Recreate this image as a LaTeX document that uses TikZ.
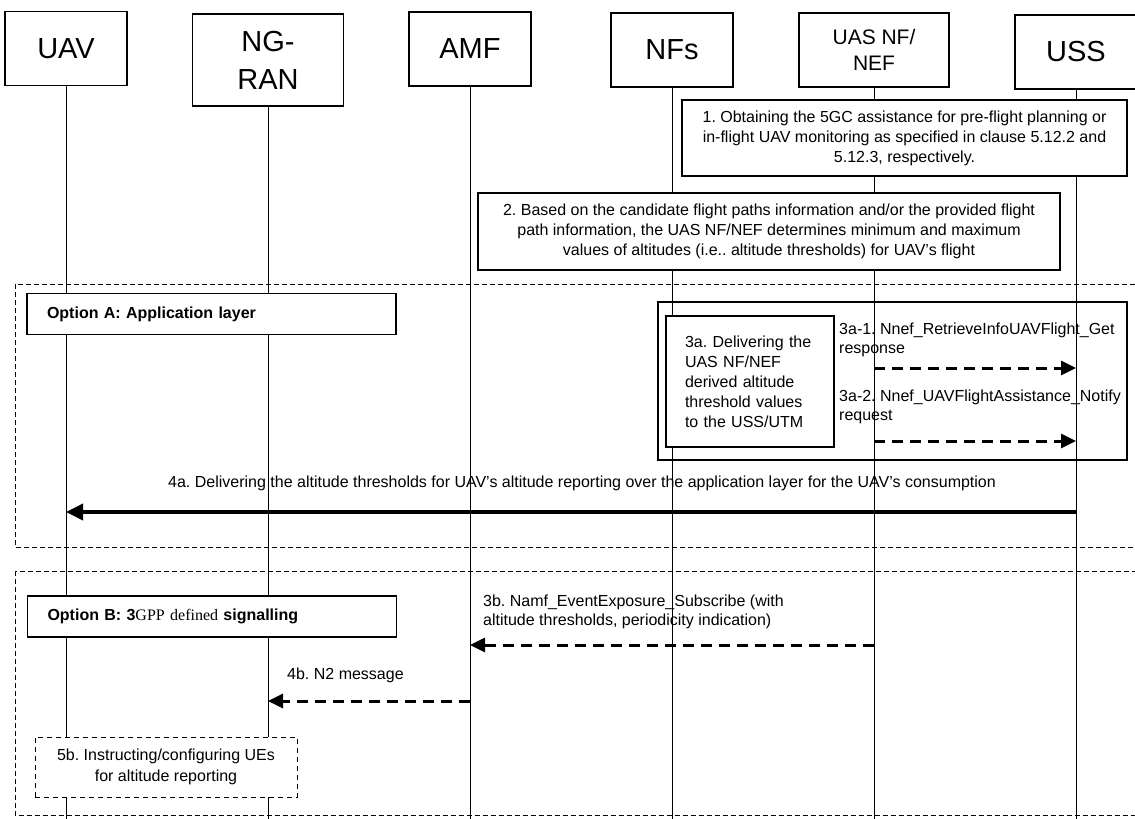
\documentclass[tikz,border=0pt]{standalone}
\usepackage{fontspec}
\setmainfont{Liberation Sans}
\newfontfamily\gppfont{Liberation Serif}
\usetikzlibrary{arrows.meta,positioning}
\frenchspacing

\begin{document}
\begin{tikzpicture}[
  x=1pt, y=-1pt,
  node distance=202pt,
  entity/.style={draw, fill=white, line width=1.2pt, minimum width=122pt, minimum height=74pt, align=center, font=\fontsize{29}{38}\selectfont},
  box/.style={draw, fill=white, line width=1.2pt, align=center, font=\fontsize{16}{20}\selectfont},
  optbox/.style={box, minimum width=369pt, minimum height=41pt, text width=329pt, inner xsep=20pt, align=left},
  life/.style={line width=0.9pt},
  area/.style={line width=0.9pt, dash pattern=on 5pt off 3pt},
  msg/.style={line width=3pt, dash pattern=on 11pt off 7pt, -{Triangle[length=15pt,width=14pt]}},
  solidmsg/.style={line width=3.5pt, -{Triangle[length=17pt,width=16pt]}},
  msgtext/.style={inner sep=0pt, anchor=west, align=left, font=\fontsize{16}{19}\selectfont}
]
\useasboundingbox (0,0) rectangle (1135,819);

\node[entity] (uav) at (66,48.5) {UAV};
\node[entity, right of=uav, minimum width=151pt, minimum height=92pt, yshift=-11.5pt] (ran) {NG-\\RAN};
\node[entity, right of=ran, yshift=11pt] (amf) {AMF};
\node[entity, right of=amf, yshift=-1pt] (nfs) {NFs};
\node[entity, right of=nfs, minimum width=150pt, font=\fontsize{21}{26}\selectfont] (uas) {UAS NF/\\NEF};
\node[entity, right of=uas, yshift=-2pt] (uss) {USS};

\coordinate (bottom) at (0,819);
\draw[life] (uav.south) -- (uav |- bottom);
\draw[life] (ran.south) -- (ran |- bottom);
\draw[life] (amf.south) -- (amf |- bottom);
\draw[life] (nfs.south) -- (nfs |- bottom);
\draw[life] (uas.south) -- (uas |- bottom);
\draw[life] (uss.south) -- (uss |- bottom);

\draw[area] (15,284) rectangle (1160,547);
\draw[area] (15,571) rectangle (1160,815);

\node[box, minimum width=445pt, minimum height=76pt] (s1) at (904.5,138) {1. Obtaining the 5GC assistance for pre-flight planning or\\in-flight UAV monitoring as specified in clause 5.12.2 and\\5.12.3, respectively.};
\node[box, minimum width=582pt, minimum height=77pt] (s2) at (769,231.5) {2. Based on the candidate flight paths information and/or the provided flight\\path information, the UAS NF/NEF determines minimum and maximum\\values of altitudes (i.e.. altitude thresholds) for UAV’s flight};

\node[optbox] (optA) at (211.5,314) {\bfseries Option A: Application layer};
\node[draw, line width=1.2pt, minimum width=469pt, minimum height=158pt] (grp3a) at (892.5,381) {};
\node[box, minimum width=168pt, minimum height=131pt, text width=130pt, inner xsep=19pt, align=left] (s3a) at (750,381.5) {3a. Delivering the\\UAS NF/NEF\\derived altitude\\threshold values\\to the USS/UTM};

\node[msgtext] (t3a1) at (839,340) {3a-1. Nnef\_RetrieveInfoUAVFlight\_Get\\response};
\coordinate (y3a1) at (0,368);
\draw[msg] (uas |- y3a1) -- (uss |- y3a1);
\node[msgtext] (t3a2) at (839,406.5) {3a-2. Nnef\_UAVFlightAssistance\_Notify\\request};
\coordinate (y3a2) at (0,441);
\draw[msg] (uas |- y3a2) -- (uss |- y3a2);

\node[msgtext] (t4a) at (168,483) {4a. Delivering the altitude thresholds for UAV’s altitude reporting over the application layer for the UAV’s consumption};
\coordinate (y4a) at (0,512);
\draw[solidmsg] (uss |- y4a) -- (uav |- y4a);

\node[optbox] (optB) at (212,616.5) {\textbf{Option B: 3}{\gppfont GPP defined} \textbf{signalling}};

\node[msgtext] (t3b) at (483,611.5) {3b. Namf\_EventExposure\_Subscribe (with\\altitude thresholds, periodicity indication)};
\coordinate (y3b) at (0,645);
\draw[msg] (uas |- y3b) -- (amf |- y3b);

\node[msgtext] (t4b) at (287,675) {4b. N2 message};
\coordinate (y4b) at (0,701);
\draw[msg] (amf |- y4b) -- (ran |- y4b);

\node[box, line width=1pt, dash pattern=on 5pt off 4pt, minimum width=262pt, minimum height=60pt, font=\fontsize{16}{21}\selectfont] (s5b) at (166,767) {5b. Instructing/configuring UEs\\for altitude reporting};

\end{tikzpicture}
\end{document}
